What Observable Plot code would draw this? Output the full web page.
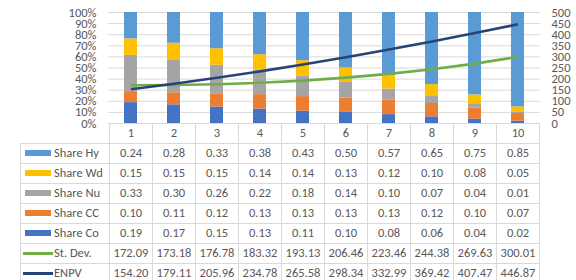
<!DOCTYPE html>
<html>
<head>
<meta charset="utf-8">
<script src="https://cdn.jsdelivr.net/npm/d3@7"></script>
<script src="https://cdn.jsdelivr.net/npm/@observablehq/plot@0.6"></script>
<style>
  body { margin: 0; background: #fff; font-family: Carlito, Calibri, "Liberation Sans", Arial, sans-serif; }
  #wrap { position: relative; width: 576px; height: 280px; overflow: hidden; }
  #wrap svg { display: block; overflow: visible; position: absolute; left: 0; top: 0; }
  .cell { position: absolute; box-sizing: border-box; border: 1px solid #d9d9d9; font-size: 12.5px; color: #595959; text-align: center; line-height: 18px; white-space: nowrap; }
  .cell.key { text-align: left; padding-left: 4px; }
  .sw { display: inline-block; width: 26px; height: 6px; margin-right: 3px; vertical-align: middle; position: relative; top: -1px; }
  .ln { display: inline-block; width: 30px; height: 3px; margin-right: 1px; margin-left: -2px; vertical-align: middle; position: relative; top: -1px; }
</style>
</head>
<body>
<div id="wrap"></div>
<script>
const categories = [1, 2, 3, 4, 5, 6, 7, 8, 9, 10];
const shareHy = [0.24, 0.28, 0.33, 0.38, 0.43, 0.50, 0.57, 0.65, 0.75, 0.85];
const shareWd = [0.15, 0.15, 0.15, 0.14, 0.14, 0.13, 0.12, 0.10, 0.08, 0.05];
const shareNu = [0.33, 0.30, 0.26, 0.22, 0.18, 0.14, 0.10, 0.07, 0.04, 0.01];
const shareCC = [0.10, 0.11, 0.12, 0.13, 0.13, 0.13, 0.13, 0.12, 0.10, 0.07];
const shareCo = [0.19, 0.17, 0.15, 0.13, 0.11, 0.10, 0.08, 0.06, 0.04, 0.02];
const stDev = [172.09, 173.18, 176.78, 183.32, 193.13, 206.46, 223.46, 244.38, 269.63, 300.01];
const enpv = [154.20, 179.11, 205.96, 234.78, 265.58, 298.34, 332.99, 369.42, 407.47, 446.87];
const rightMax = 500;

// stacking order bottom -> top
const shareSeries = [
  {name: "Share Co", values: shareCo, color: "#4472c4"},
  {name: "Share CC", values: shareCC, color: "#ed7d31"},
  {name: "Share Nu", values: shareNu, color: "#a5a5a5"},
  {name: "Share Wd", values: shareWd, color: "#ffc000"},
  {name: "Share Hy", values: shareHy, color: "#5b9bd5"}
];
const lineSeries = [
  {name: "St. Dev.", values: stDev, color: "#70ad47"},
  {name: "ENPV", values: enpv, color: "#264478"}
];

const barData = shareSeries.flatMap(s => s.values.map((v, i) => ({cat: categories[i], series: s.name, value: v})));
const lineData = lineSeries.flatMap(s => s.values.map((v, i) => ({cat: categories[i], series: s.name, value: v / rightMax})));

const W = 576, H = 123, ML = 108, MR = 36, MT = 12;
const tickVals = d3.range(11).map(i => i / 10);

const chart = Plot.plot({
  width: W, height: H,
  marginLeft: ML, marginRight: MR, marginTop: MT, marginBottom: 0,
  style: {fontFamily: 'Carlito, Calibri, "Liberation Sans", Arial, sans-serif', fontSize: "12.5px", color: "#595959", background: "transparent"},
  x: {type: "band", domain: categories, padding: 0, axis: null},
  y: {domain: [0, 1]},
  color: {domain: shareSeries.map(s => s.name).concat(lineSeries.map(s => s.name)), range: shareSeries.map(s => s.color).concat(lineSeries.map(s => s.color))},
  marks: [
    Plot.gridY(tickVals, {stroke: "#d9d9d9", strokeOpacity: 1}),
    Plot.axisY(tickVals, {anchor: "left", tickSize: 0, tickPadding: 12, label: null, tickFormat: d => Math.round(d * 100) + "%"}),
    Plot.axisY(tickVals, {anchor: "right", tickSize: 0, tickPadding: 11, label: null, tickFormat: d => String(Math.round(d * rightMax))}),
    Plot.barY(barData, Plot.stackY({offset: "normalize", order: shareSeries.map(s => s.name), x: "cat", y: "value", fill: "series", z: "series", insetLeft: 15, insetRight: 15})),
    Plot.line(lineData, {x: "cat", y: "value", z: "series", stroke: "series", strokeWidth: 2.6, strokeLinecap: "butt"})
  ]
});
const wrap = document.getElementById("wrap");
wrap.appendChild(chart);

// data table below the chart, columns aligned with Plot's x scale
const xs = chart.scale("x");
const bw = xs.bandwidth;
const rowH = 20, tableTop = H, keyLeft = 20;
function cell(left, top, width, content, cls) {
  const d = document.createElement("div");
  d.className = "cell" + (cls ? " " + cls : "");
  d.style.left = left + "px";
  d.style.top = top + "px";
  d.style.width = (width + 1) + "px";
  d.style.height = (rowH + 1) + "px";
  d.innerHTML = content;
  wrap.appendChild(d);
}
categories.forEach(c => cell(xs.apply(c), tableTop, bw, String(c)));
const rows = [...shareSeries].reverse().map(s => ({...s, key: `<span class="sw" style="background:${s.color}"></span>`}))
  .concat(lineSeries.map(s => ({...s, key: `<span class="ln" style="background:${s.color}"></span>`})));
rows.forEach((r, ri) => {
  const top = tableTop + rowH * (ri + 1);
  cell(keyLeft, top, xs.apply(categories[0]) - keyLeft, r.key + r.name, "key");
  r.values.forEach((v, i) => cell(xs.apply(categories[i]), top, bw, v.toFixed(2)));
});
</script>
</body>
</html>
